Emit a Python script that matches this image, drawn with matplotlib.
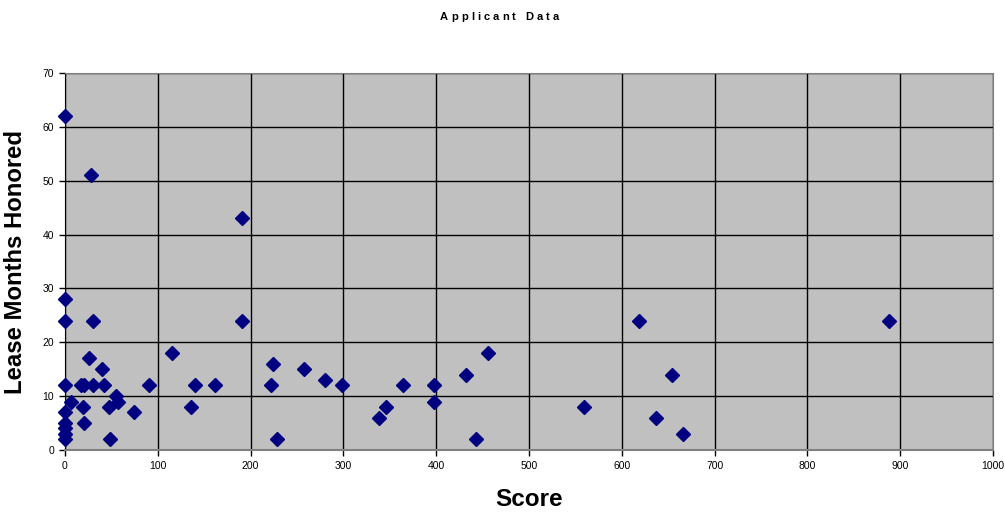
import matplotlib
matplotlib.use("Agg")
import matplotlib.pyplot as plt
from matplotlib.textpath import TextPath
from matplotlib.font_manager import FontProperties

# Applicant scores and the lease months each applicant honored
score = [0, 0, 0, 0, 0, 0, 0, 0, 0,
         7, 19, 20, 17, 20, 28, 26, 30, 30, 40, 42, 47, 49, 55, 57, 74, 91,
         115, 136, 140, 162, 191, 191,
         222, 224, 228, 258, 280, 299,
         338, 346, 364, 398, 398, 432, 443, 456,
         559, 619, 637, 654, 666, 888]
months = [62, 28, 24, 12, 7, 5, 4, 3, 2,
          9, 8, 5, 12, 12, 51, 17, 24, 12, 15, 12, 8, 2, 10, 9, 7, 12,
          18, 8, 12, 12, 43, 24,
          12, 16, 2, 15, 13, 12,
          6, 8, 12, 12, 9, 14, 2, 18,
          8, 24, 6, 14, 3, 24]

x_ticks = list(range(0, 1001, 100))
y_ticks = list(range(0, 71, 10))
title = "Applicant Data"

plt.rcParams["font.family"] = ["Liberation Sans", "DejaVu Sans"]

W, H = 1005, 517
fig = plt.figure(figsize=(W / 100, H / 100), dpi=100)
ax = fig.add_axes([65 / W, 1 - 450 / H, 928 / W, 377 / H])
ax.set_facecolor("#C0C0C0")

ax.plot(score, months, linestyle="none", marker="D", markersize=6.8,
        color="#000080", markeredgecolor="#000080", zorder=3, clip_on=False)

ax.set_xlim(0, 1000)
ax.set_ylim(0, 70)
ax.set_xticks(x_ticks)
ax.set_yticks(y_ticks)
ax.tick_params(labelsize=7.5, length=4, width=1, color="black", pad=4)
ax.grid(True, color="black", linewidth=1, zorder=1)
ax.set_axisbelow(True)

for side in ("top", "right"):
    ax.spines[side].set_color("#808080")
ax.spines["left"].set_color("black")
ax.spines["bottom"].set_color("#808080")
ax.spines["bottom"].set_linewidth(1.5)

ax.set_xlabel("Score", fontsize=17.5, fontweight="bold", labelpad=12)
ax.set_ylabel("Lease Months Honored", fontsize=17.2, fontweight="bold", labelpad=11)

# Letter-spaced title: each glyph is placed at its natural ink position
# plus a fixed amount of tracking per preceding character
title_size = 8.0
tracking_px = 3.2
fp = FontProperties(family="Liberation Sans", weight="bold", size=title_size)
px_per_pt = 100 / 72


def ink(s):
    ext = TextPath((0, 0), s, prop=fp).get_extents()
    return ext.x0 * px_per_pt, ext.x1 * px_per_pt


x0_full, x1_full = ink(title)
lefts = []
for i, ch in enumerate(title):
    if ch == " ":
        continue
    right_i = ink(title[:i + 1])[1]
    w_i = ink(ch)[1] - ink(ch)[0]
    lefts.append((ch, right_i - w_i - x0_full + tracking_px * i))
total = (x1_full - x0_full) + tracking_px * (len(title) - 1)
start = 499 - total / 2
for ch, left in lefts:
    fig.text((start + left) / W, 1 - 17 / H, ch, ha="left", va="center",
             fontproperties=fp)

fig.savefig("out.png", dpi=100)
